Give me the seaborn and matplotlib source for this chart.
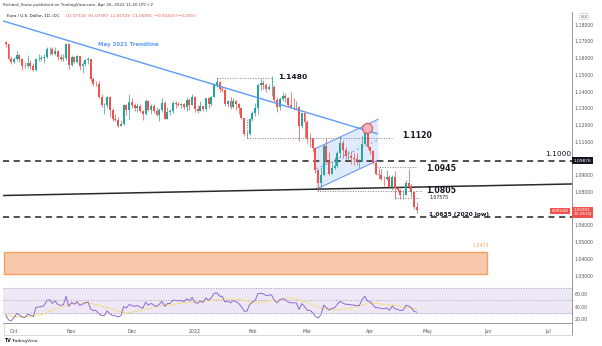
import numpy as np
import pandas as pd
import matplotlib
matplotlib.use("Agg")
import matplotlib.pyplot as plt
import matplotlib.transforms as mtransforms
from matplotlib.patches import Rectangle, Polygon, Ellipse
from matplotlib.lines import Line2D
import seaborn as sns

# ---------------------------------------------------------------- data
first_date = "2021-09-28"
last_axis_date = "2022-07-29"
first_open = 1.1695

close = [
    1.1683, 1.1597, 1.1578,
    1.1595, 1.1620, 1.1597, 1.1555, 1.1553, 1.1572, 1.1551, 1.1529, 1.1594, 1.1598, 1.1600,
    1.1608, 1.1652, 1.1655, 1.1623, 1.1644, 1.1608, 1.1598, 1.1603, 1.1682, 1.1558,
    1.1606, 1.1580, 1.1612, 1.1555, 1.1568, 1.1587, 1.1593, 1.1478, 1.1446, 1.1444, 1.1368,
    1.1319, 1.1320, 1.1370, 1.1289, 1.1237, 1.1233, 1.1197, 1.1209, 1.1319, 1.1290, 1.1338,
    1.1320, 1.1303, 1.1315, 1.1286, 1.1265, 1.1344, 1.1291, 1.1316, 1.1284, 1.1259, 1.1288,
    1.1330, 1.1239, 1.1280, 1.1283, 1.1331, 1.1328, 1.1321, 1.1327, 1.1310, 1.1349, 1.1323, 1.1370,
    1.1298, 1.1287, 1.1314, 1.1296, 1.1359, 1.1325, 1.1368, 1.1442, 1.1456, 1.1413, 1.1408,
    1.1325, 1.1343, 1.1311, 1.1344, 1.1326, 1.1302, 1.1243, 1.1144, 1.1146, 1.1235,
    1.1272, 1.1302, 1.1442, 1.1450, 1.1441, 1.1415, 1.1425, 1.1427, 1.1350, 1.1306,
    1.1358, 1.1374, 1.1361, 1.1322, 1.1309, 1.1307, 1.1308, 1.1194, 1.1270, 1.1220,
    1.1125, 1.1120, 1.1064, 1.0929, 1.0854, 1.0902, 1.1075, 1.0986, 1.0910, 1.0942, 1.0956,
    1.1034, 1.1093, 1.1050, 1.1015, 1.1016, 1.1001, 1.0998, 1.0983, 1.0984, 1.1089, 1.1158, 1.1067,
    1.1046, 1.0972, 1.0905, 1.0902, 1.0880, 1.0877, 1.0887, 1.0830, 1.0892, 1.0826, 1.0809,
    1.0780, 1.0785, 1.0853, 1.0835, 1.0799, 1.07118, 1.06901,
]
high = [
    1.1700, 1.1685, 1.1610,
    1.1608, 1.1640, 1.1625, 1.1603, 1.1580, 1.1617, 1.1590, 1.1570, 1.1601, 1.1624, 1.1621,
    1.1623, 1.1668, 1.1669, 1.1665, 1.1665, 1.1647, 1.1624, 1.1622, 1.1692, 1.1692,
    1.1616, 1.1614, 1.1616, 1.1614, 1.1575, 1.1597, 1.1607, 1.1595, 1.1487, 1.1464, 1.1464,
    1.1388, 1.1332, 1.1374, 1.1374, 1.1302, 1.1269, 1.1250, 1.1231, 1.1324, 1.1328, 1.1383,
    1.1361, 1.1334, 1.1335, 1.1326, 1.1291, 1.1355, 1.1348, 1.1329, 1.1325, 1.1306, 1.1300,
    1.1360, 1.1344, 1.1306, 1.1297, 1.1344, 1.1341, 1.1338, 1.1332, 1.1331, 1.1369, 1.1360, 1.1386,
    1.1376, 1.1322, 1.1346, 1.1317, 1.1364, 1.1361, 1.1375, 1.1450, 1.1482, 1.1465, 1.1436,
    1.1418, 1.1350, 1.1369, 1.1363, 1.1350, 1.1331, 1.1310, 1.1245, 1.1163, 1.1240,
    1.1283, 1.1331, 1.1450, 1.1483, 1.1468, 1.1450, 1.1448, 1.1495, 1.1441, 1.1367,
    1.1369, 1.1395, 1.1392, 1.1367, 1.1395, 1.1360, 1.1343, 1.1312, 1.1273, 1.1276,
    1.1233, 1.1152, 1.1123, 1.1068, 1.0935, 1.0948, 1.1085, 1.1121, 1.1042, 1.0985, 1.1007,
    1.1046, 1.1137, 1.1108, 1.1070, 1.1046, 1.1044, 1.1036, 1.1036, 1.0999, 1.1137, 1.1185, 1.1171,
    1.1076, 1.1054, 1.0994, 1.0944, 1.0939, 1.0893, 1.0933, 1.0900, 1.0899, 1.0925, 1.0838,
    1.0819, 1.0810, 1.0872, 1.0936, 1.0849, 1.0805, 1.07387,
]
low = [
    1.1669, 1.1587, 1.1563,
    1.1570, 1.1590, 1.1580, 1.1529, 1.1541, 1.1544, 1.1537, 1.1524, 1.1523, 1.1584, 1.1586,
    1.1571, 1.1601, 1.1620, 1.1619, 1.1618, 1.1589, 1.1585, 1.1585, 1.1590, 1.1535,
    1.1555, 1.1570, 1.1571, 1.1529, 1.1513, 1.1555, 1.1567, 1.1463, 1.1433, 1.1432, 1.1360,
    1.1309, 1.1264, 1.1310, 1.1250, 1.1226, 1.1226, 1.1186, 1.1192, 1.1200, 1.1258, 1.1235,
    1.1305, 1.1286, 1.1276, 1.1276, 1.1228, 1.1263, 1.1286, 1.1265, 1.1271, 1.1252, 1.1222,
    1.1280, 1.1234, 1.1234, 1.1262, 1.1272, 1.1300, 1.1313, 1.1300, 1.1296, 1.1285, 1.1293, 1.1318,
    1.1279, 1.1272, 1.1285, 1.1285, 1.1285, 1.1301, 1.1313, 1.1367, 1.1430, 1.1398, 1.1396,
    1.1316, 1.1309, 1.1299, 1.1300, 1.1290, 1.1264, 1.1234, 1.1136, 1.1121, 1.1140,
    1.1224, 1.1256, 1.1268, 1.1411, 1.1415, 1.1399, 1.1410, 1.1376, 1.1340, 1.1281,
    1.1290, 1.1343, 1.1339, 1.1310, 1.1301, 1.1288, 1.1293, 1.1106, 1.1184, 1.1124,
    1.1094, 1.1069, 1.1041, 1.0913, 1.0806, 1.0829, 1.0899, 1.0975, 1.0900, 1.0908, 1.0935,
    1.0952, 1.1008, 1.1003, 1.0996, 1.0989, 1.0968, 1.0963, 1.0964, 1.0945, 1.0980, 1.1080, 1.1059,
    1.1028, 1.0966, 1.0901, 1.0880, 1.0871, 1.0837, 1.0870, 1.0822, 1.0812, 1.0757, 1.0802,
    1.0760, 1.0757, 1.0783, 1.0817, 1.0768, 1.0697, 1.06728,
]
# September 2021 closes before the first bar (RSI warm-up)
warmup_close = [1.1842, 1.1876, 1.1880, 1.1869, 1.1842, 1.1818, 1.1823, 1.1813, 1.1809, 1.1804,
                1.1817, 1.1765, 1.1726, 1.1728, 1.1723, 1.1690, 1.1740, 1.1720, 1.1695]

price_ticks = [1.18, 1.17, 1.16, 1.15, 1.14, 1.13, 1.12, 1.11, 1.09, 1.08, 1.06, 1.05, 1.04, 1.03]
rsi_ticks = [60, 40, 20]
month_labels = ["Oct", "Nov", "Dec", "2022", "Feb", "Mar", "Apr", "May", "Jun", "Jul"]

# drawn levels / annotations (bar index, price)
level_1100 = 1.09876
level_2020_low = 1.0652
trend_x = [-2.1, 135.6]
trend_y = [1.1828, 1.1148]
support_x = [-1.0, 206.6]
support_y = [1.0779, 1.0848]
channel_x = [113.2, 135.9]
channel_upper = [1.1061, 1.1235]
channel_lower = [1.0816, 1.0990]
zone_x = [-0.65, 175.6]
zone_y = [1.0310, 1.0443]

# ---------------------------------------------------------------- figure
W, H = 602, 346
sns.set_theme(style="white")
plt.rcParams["font.family"] = ["DejaVu Sans"]
fig = plt.figure(figsize=(W / 100, H / 100), dpi=100)
fig.patch.set_facecolor("white")

def fx(px):
    return px / W

def fy(py):
    return 1 - py / H

ax = fig.add_axes([fx(3), fy(283), fx(572) - fx(3), fy(12) - fy(283)])
ax2 = fig.add_axes([fx(3), fy(322.7), fx(572) - fx(3), fy(283) - fy(322.7)])

all_dates = pd.bdate_range(first_date, last_axis_date)
n = len(close)
xs = np.arange(n)
opens = [first_open] + close[:-1]
UP, DOWN = "#26a69a", "#ef5350"
cols = [UP if c >= o else DOWN for o, c in zip(opens, close)]

XMIN, XMAX = -1.01, 206.6
YMIN, YMAX = 1.0256, 1.1876

# zone rectangle
ax.add_patch(Rectangle((zone_x[0], zone_y[0]), zone_x[1] - zone_x[0], zone_y[1] - zone_y[0],
                       facecolor="#f8c8ad", edgecolor="#f5a05f", lw=1.0, zorder=1))

# channel
poly = Polygon([[channel_x[0], channel_lower[0]], [channel_x[1], channel_lower[1]],
                [channel_x[1], channel_upper[1]], [channel_x[0], channel_upper[0]]],
               closed=True, facecolor="#dfeafc", edgecolor="none", zorder=1)
ax.add_patch(poly)
sns.lineplot(x=channel_x, y=channel_upper, ax=ax, color="#6a9ef5", lw=0.8, zorder=2)
sns.lineplot(x=channel_x, y=channel_lower, ax=ax, color="#6a9ef5", lw=0.8, zorder=2)
mid = [(a + b) / 2 for a, b in zip(channel_upper, channel_lower)]
ax.plot(channel_x, mid, color="#6a9ef5", lw=0.6, ls=(0, (3, 3)), zorder=2)

# horizontal levels
ax.axhline(level_1100, color="#222222", lw=1.1, ls=(0, (4, 3)), zorder=2)
ax.axhline(level_2020_low, color="#222222", lw=1.1, ls=(0, (4, 3)), zorder=2)
sns.lineplot(x=support_x, y=support_y, ax=ax, color="#2a2a2a", lw=1.1, zorder=2)

dot = dict(color="#7a7d86", lw=0.7, ls=(0, (1, 1.6)), zorder=2)
ax.plot([77, 97], [1.1480, 1.1480], **dot)
ax.plot([77, 77], [1.1480, 1.1430], **dot)
ax.plot([97, 97], [1.1480, 1.1420], **dot)
ax.plot([88, 141], [1.1125, 1.1125], **dot)
ax.plot([88, 88], [1.1125, 1.1240], **dot)
ax.plot([135.5, 150], [1.0947, 1.0947], **dot)
ax.plot([113.6, 152.3], [1.0808, 1.0808], **dot)
ax.plot([142, 151.3], [1.0764, 1.0764], **dot)
ax.plot([142, 142], [1.0808, 1.0764], **dot)

# candles
body = [max(abs(c - o), 0.00012) for o, c in zip(opens, close)]
bottoms = [min(o, c) for o, c in zip(opens, close)]
ax.vlines(xs, low, high, colors=cols, lw=0.6, alpha=0.85, zorder=3)
ax.bar(xs, body, bottom=bottoms, width=0.72, color=cols, linewidth=0, zorder=4)

# May 2021 trendline
sns.lineplot(x=trend_x, y=trend_y, ax=ax, color="#5b9cf6", lw=1.0, zorder=5)

# red circle
ax.add_patch(Ellipse((132.0, 1.1180), 10 / 2.74, 10 / 1673, facecolor="#f6b3b7",
                     edgecolor="#e04850", lw=0.8, alpha=0.9, zorder=6))

# texts
tb = dict(fontweight="bold", color="#131722", va="center", ha="left")
ax.text(33.7, 1.1679, "May 2021 Trendline", fontsize=4.0, color="#5b9cf6", fontweight="bold",
        va="center", ha="left")
ax.text(99.4, 1.1487, "1.1480", fontsize=5.4, **tb)
ax.text(144.6, 1.1135, "1.1120", fontsize=5.6, **tb)
ax.text(153.4, 1.0943, "1.0945", fontsize=5.6, **tb)
ax.text(153.4, 1.0806, "1.0805", fontsize=5.6, **tb)
ax.text(154.5, 1.0770, "1.07575", fontsize=3.3, color="#131722", va="center", ha="left")
ax.text(154.5, 1.0668, "1.0635 (2020 low)", fontsize=4.2, **tb)
ax.text(196.8, 1.1030, "1.1000", fontsize=5.4, color="#131722", va="center", ha="left")
ax.text(170.2, 1.0478, "1.0473", fontsize=3.4, color="#f5a05f", va="center", ha="left")

ax.set_xlim(XMIN, XMAX)
ax.set_ylim(YMIN, YMAX)
ax.set_xticks([])
ax.set_yticks(price_ticks)
ax.set_yticklabels([f"{v:.5f}" for v in price_ticks])
ax.yaxis.tick_right()
ax.tick_params(axis="y", length=0, labelsize=3.3, pad=2, colors="#50535e")
ax.set_xlabel("")
ax.set_ylabel("")
for s in ["top", "left"]:
    ax.spines[s].set_visible(False)
ax.spines["right"].set_color("#9598a1")
ax.spines["right"].set_linewidth(0.7)
ax.spines["bottom"].set_color("#e0e3eb")
ax.spines["bottom"].set_linewidth(0.6)
ax.set_facecolor("white")

# price axis labels
tr = mtransforms.blended_transform_factory(ax.transAxes, ax.transData)
ax.text(1.002, level_1100, "1.09876", transform=tr, fontsize=3.2, color="white", va="center",
        ha="left", bbox=dict(boxstyle="square,pad=0.35", fc="#131722", ec="none"), clip_on=False)
ax.text(1.002, 1.0679, "1.06901\n12:39:04", transform=tr, fontsize=3.0, color="white",
        va="center", ha="left", linespacing=1.1,
        bbox=dict(boxstyle="square,pad=0.35", fc="#ef5350", ec="none"), clip_on=False)
ax.text(0.994, 1.0686, "EURUSD", transform=tr, fontsize=3.0, color="white", va="center",
        ha="right", bbox=dict(boxstyle="square,pad=0.3", fc="#ef5350", ec="none"), clip_on=False)

# ---------------------------------------------------------------- RSI pane
allc = pd.Series(warmup_close + close)
d = allc.diff().fillna(0)
gain = d.clip(lower=0)
loss = -d.clip(upper=0)
ag = gain.ewm(alpha=1 / 14, adjust=False).mean()
al = loss.ewm(alpha=1 / 14, adjust=False).mean()
rsi_all = 100 - 100 / (1 + ag / al)
rsi_ma_all = rsi_all.rolling(14, min_periods=1).mean()
k = len(warmup_close)
rsi = rsi_all.iloc[k:].to_numpy()
rsi_ma = rsi_ma_all.iloc[k:].to_numpy()

ax2.axhspan(30, 70, color="#ede7f6", zorder=0)
for lv in (70, 50, 30):
    ax2.axhline(lv, color="#9a9ca5", lw=0.6, ls=(0, (1.2, 1.8)), zorder=1)
sns.lineplot(x=xs, y=rsi_ma, ax=ax2, color="#f5df8f", lw=0.8, zorder=2)
sns.lineplot(x=xs, y=rsi, ax=ax2, color="#8e6bd0", lw=0.7, zorder=3)
ax2.set_xlim(XMIN, XMAX)
ax2.set_ylim(14.8, 77.3)
ax2.set_yticks(rsi_ticks)
ax2.set_yticklabels([f"{v:.2f}" for v in rsi_ticks])
ax2.yaxis.tick_right()
ax2.tick_params(axis="y", length=0, labelsize=3.3, pad=2, colors="#50535e")

month_pos = []
prev = None
for i, dt in enumerate(all_dates):
    key = (dt.year, dt.month)
    if key != prev and i > 0:
        month_pos.append(i)
    prev = key
month_pos = month_pos[:len(month_labels)]
ax2.set_xticks(month_pos)
ax2.set_xticklabels(month_labels)
ax2.tick_params(axis="x", length=0, labelsize=3.4, pad=4.5, colors="#50535e")
ax2.set_xlabel("")
ax2.set_ylabel("")
for s in ["top", "left"]:
    ax2.spines[s].set_visible(False)
ax2.spines["right"].set_color("#9598a1")
ax2.spines["right"].set_linewidth(0.7)
ax2.spines["bottom"].set_color("#9598a1")
ax2.spines["bottom"].set_linewidth(0.7)
ax2.set_facecolor("white")

# frame lines of the time axis
fig.add_artist(Line2D([fx(572), fx(572)], [fy(322.7), fy(335)], color="#9598a1", lw=0.7))
fig.add_artist(Line2D([fx(4), fx(572)], [fy(335), fy(335)], color="#d1d4dc", lw=0.6))
fig.add_artist(Line2D([fx(4), fx(4)], [fy(322.7), fy(335)], color="#d1d4dc", lw=0.6))

# header
fig.text(fx(3), fy(5), "Richard_Snow published on TradingView.com, Apr 26, 2022 11:20 UTC+2",
         fontsize=3.0, color="#333333", va="center", ha="left")
fig.text(fx(7), fy(16), "Euro / U.S. Dollar, 1D, IDC", fontsize=3.0, color="#131722",
         va="center", ha="left")
fig.text(fx(66.5), fy(16), "O1.07118  H1.07387  L1.06728  C1.06901  \u22120.00210 (\u22120.20%)",
         fontsize=3.0, color="#ef5350", va="center", ha="left")
fig.text(fx(584), fy(16.5), "USD", fontsize=2.4, color="#50535e", va="center", ha="center",
         bbox=dict(boxstyle="round,pad=0.3", fc="white", ec="#c8cad0", lw=0.4))
fig.text(fx(4), fy(341), "TV", fontsize=3.4, color="#131722", fontweight="bold",
         va="center", ha="left")
fig.text(fx(11), fy(341), "TradingView", fontsize=3.2, color="#131722", va="center", ha="left")

fig.savefig("out.png", dpi=100, facecolor="white")
